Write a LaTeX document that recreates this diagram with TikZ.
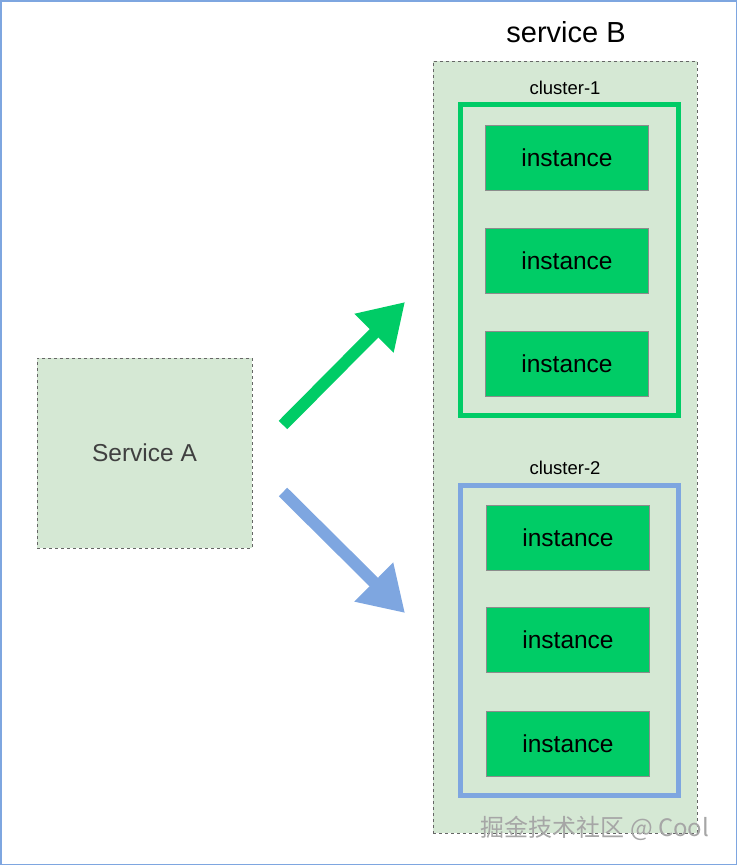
\documentclass[tikz,border=0pt]{standalone}
\usepackage{fontspec}
\setmainfont{Liberation Sans}
\newfontfamily\cjk{Noto Sans CJK SC}
\usetikzlibrary{arrows.meta}
\definecolor{boxgreen}{HTML}{D5E8D4}
\definecolor{instgreen}{HTML}{00CC66}
\definecolor{clblue}{HTML}{7EA6E0}
\begin{document}
\begin{tikzpicture}[x=1pt,y=-1pt]
    \tikzstyle{svc}=[draw=black!60,dashed,fill=boxgreen,inner sep=0pt]
    \tikzstyle{cluster}=[line width=5pt,inner sep=0pt]
    \tikzstyle{instance}=[draw=black!45,fill=instgreen,minimum width=163pt,minimum height=65pt,inner sep=0pt,font=\fontsize{24.5}{28}\selectfont]
    \tikzstyle{label}=[font=\fontsize{18.5}{22}\selectfont]
    \tikzstyle{fat}=[line width=12pt,-{Triangle[length=44pt,width=52pt]}]

    \useasboundingbox (0,0) rectangle (737,865);
    \draw[clblue,line width=1.5pt] (0.75,0.75) rectangle (736.25,864.25);

    % Service A
    \node[svc,minimum width=215pt,minimum height=190pt,text=black!75,font=\fontsize{24.5}{28}\selectfont] (A) at (144.5,453) {Service A};

    % service B with its clusters
    \node[svc,minimum width=264pt,minimum height=772pt] (B) at (565,447) {};
    \node[font=\fontsize{29}{34}\selectfont] (Bt) at (566,32) {service B};

    \node[label] (c1) at (565,88) {cluster-1};
    \node[cluster,draw=instgreen,minimum width=218pt,minimum height=311pt] (C1) at (569,259.5) {};
    \node[label] (c2) at (565,468) {cluster-2};
    \node[cluster,draw=clblue,minimum width=218pt,minimum height=310pt] (C2) at (569,640) {};

    % instances
    \foreach \name / \y in {1/158,2/260.5,3/363.5}
        \node[instance] (I1-\name) at (567,\y) {instance};
    \foreach \name / \y in {1/537.5,2/639.5,3/743.5}
        \node[instance] (I2-\name) at (568,\y) {instance};

    % arrows from A into B
    \coordinate (g0) at (283,425);
    \coordinate (g1) at (405,302);
    \coordinate (b0) at (283,492);
    \coordinate (b1) at (405,613);
    \draw[fat,instgreen] (g0) -- (g1);
    \draw[fat,clblue] (b0) -- (b1);

    \node[text=black!35,font=\cjk\fontsize{24}{28}\selectfont] (wm) at (595,828) {掘金技术社区 @ Cool};
\end{tikzpicture}
\end{document}
